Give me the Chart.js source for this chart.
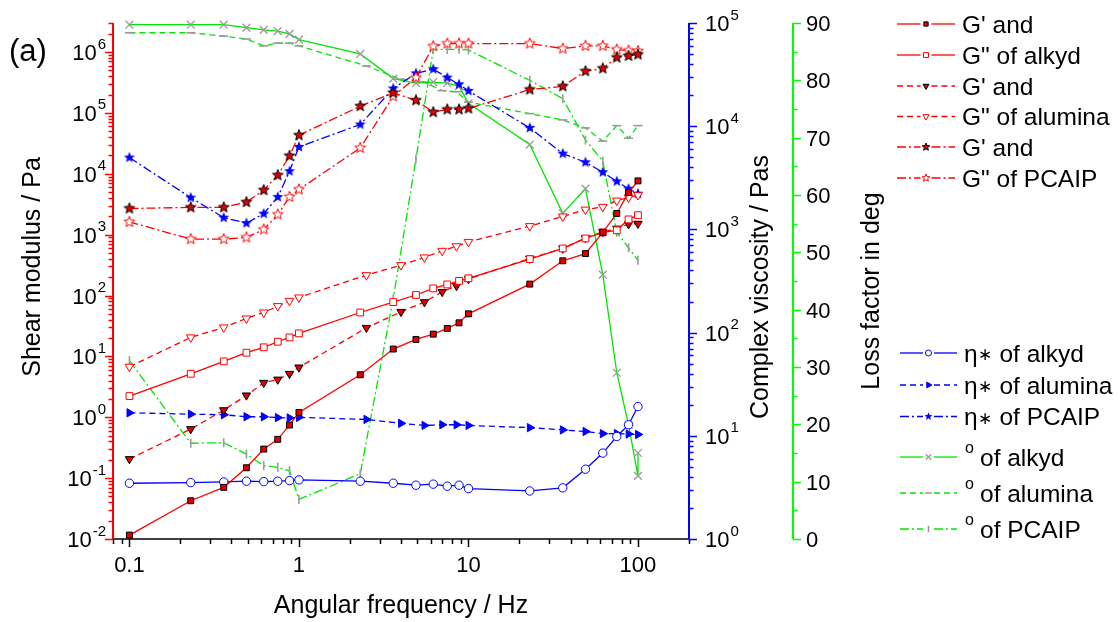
<!DOCTYPE html>
<html>
<head>
<meta charset="utf-8">
<title>Rheology of alkyd, alumina and PCAIP</title>
<script src="https://cdn.jsdelivr.net/npm/chart.js@4.4.1/dist/chart.umd.min.js"></script>
<style>
  html, body { margin: 0; padding: 0; background: #fff; }
  #chart { display: block; }
</style>
</head>
<body>
<canvas id="chart" width="1120" height="622"></canvas>
<script>
// Frequency sweeps (Hz). Alkyd and PCAIP share one sweep, alumina used another.
const freqAlkyd = [0.1, 0.23, 0.36, 0.49, 0.62, 0.75, 0.88, 1, 2.3, 3.6, 4.9, 6.2, 7.5, 8.8, 10, 23, 36, 49, 62, 75, 88, 100];
const freqPcaip = freqAlkyd;
const freqAlumina = [0.1, 0.23, 0.36, 0.49, 0.62, 0.75, 0.88, 1, 2.5, 4, 5.5, 7, 8.5, 10, 23, 36, 49, 62, 75, 88, 100];
const freqLossAlkyd = [...freqAlkyd, 100]; // two readings at 100 Hz

// storage (G') and loss (G") modulus, Pa
const gpAlkyd = [0.0116, 0.0425, 0.0706, 0.148, 0.30, 0.434, 0.745, 1.2, 4.99, 13.2, 19, 23.2, 28.8, 35.6, 50, 154, 372, 488, 1090, 2230, 4930, 7640];
const gppAlkyd = [2.23, 5.18, 8.28, 11.5, 14.1, 17.4, 20.5, 23.9, 52.6, 78, 102, 131, 152, 174, 192, 396, 593, 866, 1090, 1180, 1780, 2090];
const gpAlumina = [0.206, 0.64, 1.31, 2.29, 3.69, 4.17, 5.18, 6.6, 29.5, 54, 78, 115, 144, 188, 405, 592, 878, 1110, 1260, 1490, 1515];
const gppAlumina = [6.76, 20.5, 29.9, 42, 52.6, 67, 81.8, 93, 216, 316, 423, 542, 646, 760, 1380, 1990, 2580, 2860, 3630, 4080, 4470];
const gpPcaip = [2690, 2800, 2800, 3420, 5380, 9480, 19700, 43000, 129000, 214000, 161000, 103000, 114000, 114000, 118000, 242000, 273000, 484000, 537000, 813000, 863000, 913000];
const gppPcaip = [1620, 844, 844, 900, 1217, 2140, 4170, 5520, 26600, 187000, 380000, 1245000, 1380000, 1380000, 1380000, 1380000, 1140000, 1260000, 1260000, 1100000, 1060000, 1040000];

// complex viscosity, Pas
const etaAlkyd = [3.47, 3.52, 3.57, 3.63, 3.6, 3.63, 3.68, 3.74, 3.63, 3.47, 3.32, 3.4, 3.25, 3.32, 3.08, 2.92, 3.13, 4.75, 6.8, 9.84, 12.8, 19.2];
const etaAlumina = [16.7, 16.2, 16.0, 15.3, 15.3, 15.0, 14.9, 15.1, 14.4, 13.2, 12.6, 12.8, 12.8, 12.6, 12.0, 11.4, 11.0, 10.5, 10.5, 10.4, 10.3];
const etaPcaip = [4970, 2030, 1300, 1150, 1420, 2060, 3660, 6300, 10400, 23200, 32500, 35700, 29600, 25400, 22000, 9620, 5430, 4470, 3580, 2920, 2480, 2220];

// loss factor, deg
const lossAlkyd = [89.7, 89.7, 89.7, 89.2, 88.8, 88.6, 88.1, 87.1, 84.6, 80.3, 79.5, 79.7, 79.5, 79.0, 76.0, 68.8, 56.8, 61.1, 46.1, 29.0, 19.9, 11.0, 15.0];
const lossAlumina = [88.3, 88.3, 87.7, 87.2, 86.0, 86.5, 86.5, 86.0, 82.5, 80.2, 79.7, 78.2, 78.0, 76.2, 74.2, 73.1, 71.7, 69.4, 72.1, 69.9, 72.1];
const lossPcaip = [31.1, 16.7, 16.8, 14.8, 12.8, 12.5, 11.9, 6.9, 11.4, 41.9, 66.3, 85.4, 85.4, 85.4, 85.3, 80.0, 76.8, 69.6, 65.9, 53.5, 50.8, 48.6];

// tick labels
const freqTicks = [0.1, 1, 10, 100];
const modulusExponents = [-2, -1, 0, 1, 2, 3, 4, 5, 6];
const viscosityExponents = [0, 1, 2, 3, 4, 5];
const lossTicks = [0, 10, 20, 30, 40, 50, 60, 70, 80, 90];

const FONT = '"Liberation Sans", Arial, Helvetica, sans-serif';
const RED = '#ff0000', DARKRED = '#e00000', BLUE = '#0000ff', GREEN = '#00e600', GREY = '#9a9a9a';
const DASH = [6, 4], DASHDOT = [9, 3, 2, 3];

// five-pointed star marker, Chart.js has no filled star style
function starMarker(r, fill, stroke) {
  const c = document.createElement('canvas');
  c.width = c.height = Math.ceil(2 * r + 4);
  const g = c.getContext('2d');
  const cx = c.width / 2, cy = c.height / 2;
  g.beginPath();
  for (let i = 0; i < 10; i++) {
    const rr = i % 2 ? r * 0.44 : r;
    const t = -Math.PI / 2 + i * Math.PI / 5;
    g.lineTo(cx + rr * Math.cos(t), cy + rr * Math.sin(t));
  }
  g.closePath();
  g.fillStyle = fill;
  g.fill();
  if (stroke) { g.lineWidth = 1; g.strokeStyle = stroke; g.stroke(); }
  return c;
}

function series(label, xs, ys, axis, style) {
  return Object.assign({
    label,
    xAxisID: 'x',
    yAxisID: axis,
    data: xs.map((x, i) => ({ x, y: ys[i] })),
    borderWidth: 1.3,
    borderDash: [],
    tension: 0,
    fill: false,
    clip: false,
    pointBorderWidth: 1
  }, style);
}

const datasets = [
  series("G' and", freqAlkyd, gpAlkyd, 'yG', {
    borderColor: RED, pointStyle: 'rect', pointRadius: 4.2,
    pointBackgroundColor: DARKRED, pointBorderColor: '#000'
  }),
  series('G" of alkyd', freqAlkyd, gppAlkyd, 'yG', {
    borderColor: RED, pointStyle: 'rect', pointRadius: 4.8,
    pointBackgroundColor: '#fff', pointBorderColor: RED
  }),
  series("G' and", freqAlumina, gpAlumina, 'yG', {
    borderColor: RED, borderDash: DASH, pointStyle: 'triangle', pointRotation: 180, pointRadius: 4.8,
    pointBackgroundColor: DARKRED, pointBorderColor: '#000'
  }),
  series('G" of alumina', freqAlumina, gppAlumina, 'yG', {
    borderColor: RED, borderDash: DASH, pointStyle: 'triangle', pointRotation: 180, pointRadius: 5,
    pointBackgroundColor: '#fff', pointBorderColor: RED
  }),
  series("G' and", freqPcaip, gpPcaip, 'yG', {
    borderColor: RED, borderDash: DASHDOT, pointStyle: starMarker(5.6, DARKRED, '#000'),
    legendMarker: starMarker(4, DARKRED, '#000')
  }),
  series('G" of PCAIP', freqPcaip, gppPcaip, 'yG', {
    borderColor: RED, borderDash: DASHDOT, pointStyle: starMarker(5.6, '#fff', RED),
    legendMarker: starMarker(4, '#fff', RED)
  }),
  series('\u03b7\u2217 of alkyd', freqAlkyd, etaAlkyd, 'yEta', {
    borderColor: BLUE, pointStyle: 'circle', pointRadius: 4.2,
    pointBackgroundColor: '#fff', pointBorderColor: BLUE
  }),
  series('\u03b7\u2217 of alumina', freqAlumina, etaAlumina, 'yEta', {
    borderColor: BLUE, borderDash: DASH, pointStyle: 'triangle', pointRotation: 90, pointRadius: 4.8,
    pointBackgroundColor: BLUE, pointBorderColor: BLUE
  }),
  series('\u03b7\u2217 of PCAIP', freqPcaip, etaPcaip, 'yEta', {
    borderColor: BLUE, borderDash: DASHDOT, pointStyle: starMarker(5.8, BLUE, null),
    legendMarker: starMarker(4.2, BLUE, null)
  }),
  series('of alkyd', freqLossAlkyd, lossAlkyd, 'yLoss', {
    borderColor: GREEN, pointStyle: 'crossRot', pointRadius: 5.5,
    pointBackgroundColor: GREY, pointBorderColor: GREY, pointBorderWidth: 1.3
  }),
  series('of alumina', freqAlumina, lossAlumina, 'yLoss', {
    borderColor: GREEN, borderDash: DASH, pointStyle: 'line', pointRadius: 4.5,
    pointBackgroundColor: GREY, pointBorderColor: GREY, pointBorderWidth: 1.6
  }),
  series('of PCAIP', freqPcaip, lossPcaip, 'yLoss', {
    borderColor: GREEN, borderDash: DASHDOT, pointStyle: 'line', pointRotation: 90, pointRadius: 4.5,
    pointBackgroundColor: GREY, pointBorderColor: GREY, pointBorderWidth: 1.6
  })
];

function seg(ctx, x0, y0, x1, y1) {
  ctx.beginPath();
  ctx.moveTo(x0, y0);
  ctx.lineTo(x1, y1);
  ctx.stroke();
}

// 1..9 x 10^n positions between min and max
function logTicks(min, max) {
  const out = [];
  for (let e = Math.floor(Math.log10(min)); e <= Math.ceil(Math.log10(max)); e++) {
    for (let m = 1; m < 10; m++) {
      const v = m * Math.pow(10, e);
      if (v >= min * 0.999 && v <= max * 1.001) out.push({ v, major: m === 1 });
    }
  }
  return out;
}

// "10" with a raised exponent
function powerLabel(ctx, exp, x, y, alignRight) {
  ctx.textAlign = 'left';
  ctx.textBaseline = 'alphabetic';
  ctx.font = '22px ' + FONT;
  const wb = ctx.measureText('10').width;
  ctx.font = '15px ' + FONT;
  const ws = ctx.measureText(String(exp)).width;
  const x0 = alignRight ? x - wb - ws - 1 : x;
  ctx.font = '22px ' + FONT;
  ctx.fillText('10', x0, y + 8);
  ctx.font = '15px ' + FONT;
  ctx.fillText(String(exp), x0 + wb + 1, y - 3.5);
}

function verticalTitle(ctx, text, x, y) {
  ctx.save();
  ctx.translate(x, y);
  ctx.rotate(-Math.PI / 2);
  ctx.textAlign = 'center';
  ctx.textBaseline = 'alphabetic';
  ctx.fillText(text, 0, 0);
  ctx.restore();
}

const LOSS_AXIS_OFFSET = 104;

const axesPlugin = {
  id: 'axes',
  beforeDatasetsDraw(chart) {
    const { ctx, chartArea: a, scales } = chart;
    const sx = scales.x, sg = scales.yG, se = scales.yEta, sl = scales.yLoss;
    ctx.save();
    ctx.lineCap = 'butt';

    // frequency axis
    ctx.strokeStyle = '#000';
    ctx.lineWidth = 1.5;
    seg(ctx, a.left - 1, a.bottom, a.right, a.bottom);
    logTicks(sx.min, sx.max).forEach(t => {
      const px = Math.round(sx.getPixelForValue(t.v)) + 0.5;
      seg(ctx, px, a.bottom, px, a.bottom + (t.major ? 8 : 5));
    });
    ctx.fillStyle = '#000';
    ctx.font = '22px ' + FONT;
    ctx.textAlign = 'center';
    ctx.textBaseline = 'alphabetic';
    freqTicks.forEach(v => ctx.fillText(String(v), sx.getPixelForValue(v), 572));

    // shear modulus axis
    ctx.strokeStyle = RED;
    ctx.lineWidth = 2;
    seg(ctx, a.left, a.top, a.left, a.bottom);
    ctx.lineWidth = 1.5;
    logTicks(sg.min, sg.max).forEach(t => {
      const py = Math.round(sg.getPixelForValue(t.v)) + 0.5;
      seg(ctx, a.left, py, a.left - (t.major ? 8 : 4.5), py);
    });
    ctx.fillStyle = '#000';
    modulusExponents.forEach(e => powerLabel(ctx, e, 106, sg.getPixelForValue(Math.pow(10, e)), true));

    // complex viscosity axis
    ctx.strokeStyle = BLUE;
    ctx.lineWidth = 2;
    seg(ctx, a.right, a.top, a.right, a.bottom);
    ctx.lineWidth = 1.5;
    logTicks(se.min, se.max).forEach(t => {
      const py = Math.round(se.getPixelForValue(t.v)) + 0.5;
      seg(ctx, a.right, py, a.right + (t.major ? 8 : 4.5), py);
    });
    viscosityExponents.forEach(e => powerLabel(ctx, e, a.right + 16, se.getPixelForValue(Math.pow(10, e)), false));

    // loss factor axis
    const lx = a.right + LOSS_AXIS_OFFSET;
    ctx.strokeStyle = '#00ff00';
    ctx.lineWidth = 2;
    seg(ctx, lx, a.top, lx, a.bottom);
    ctx.lineWidth = 1.5;
    for (let d = 0; d <= 90; d += 5) {
      const py = Math.round(sl.getPixelForValue(d)) + 0.5;
      seg(ctx, lx, py, lx + (d % 10 === 0 ? 8 : 4.5), py);
    }
    ctx.fillStyle = '#000';
    ctx.font = '22px ' + FONT;
    ctx.textAlign = 'left';
    lossTicks.forEach(v => ctx.fillText(String(v), lx + 13, sl.getPixelForValue(v) + 8));

    // titles
    ctx.font = '25px ' + FONT;
    ctx.textAlign = 'center';
    ctx.fillText('Angular frequency / Hz', (a.left + a.right) / 2, 613);
    verticalTitle(ctx, 'Shear modulus / Pa', 40, 267);
    verticalTitle(ctx, 'Complex viscosity / Pas', a.right + 79, 287);
    verticalTitle(ctx, 'Loss factor in deg', lx + 86, 291);
    ctx.font = '31px ' + FONT;
    ctx.textAlign = 'left';
    ctx.fillText('(a)', 9, 61);
    ctx.restore();
  }
};

// legend rows: line sample with a gap around the marker, then the label
const LEGEND_ROWS = [24, 55, 86, 116.5, 147, 178, 353, 385, 416.5, 457, 493, 529];

const legendPlugin = {
  id: 'sampleLegend',
  afterDraw(chart) {
    const { ctx } = chart;
    chart.data.datasets.forEach((ds, i) => {
      const y = LEGEND_ROWS[i];
      const upper = i < 6;
      const x0 = upper ? 897 : 900, x1 = upper ? 955 : 957;
      const xm = (x0 + x1) / 2;
      ctx.save();
      ctx.strokeStyle = ds.borderColor;
      ctx.lineWidth = 1.3;
      ctx.setLineDash(ds.borderDash);
      seg(ctx, x0, y, xm - 5.5, y);
      seg(ctx, xm + 5.5, y, x1, y);
      ctx.setLineDash([]);
      ctx.fillStyle = ds.pointBackgroundColor || '#000';
      ctx.strokeStyle = ds.pointBorderColor || '#000';
      ctx.lineWidth = ds.pointBorderWidth;
      Chart.helpers.drawPoint(ctx, {
        pointStyle: ds.legendMarker || ds.pointStyle,
        rotation: ds.pointRotation || 0,
        radius: (ds.pointRadius || 4) * 0.72,
        borderWidth: ds.pointBorderWidth
      }, xm, y);

      ctx.fillStyle = '#000';
      ctx.textAlign = 'left';
      ctx.textBaseline = 'alphabetic';
      if (ds.yAxisID === 'yLoss') {
        ctx.font = '16px ' + FONT;
        ctx.fillText('o', 965, y - 4);
        ctx.font = '24.5px ' + FONT;
        ctx.fillText(ds.label, 980, y + 8.5);
      } else if (ds.yAxisID === 'yEta') {
        // eta with a smaller centred asterisk
        const [sym, rest] = [ds.label.slice(0, 2), ds.label.slice(2)];
        ctx.font = '24.5px ' + FONT;
        ctx.fillText(sym[0], 964, y + 8.5);
        const we = ctx.measureText(sym[0]).width;
        ctx.font = '17px ' + FONT;
        ctx.fillText(sym[1], 964 + we + 0.5, y + 7);
        const wa = ctx.measureText(sym[1]).width;
        ctx.font = '24.5px ' + FONT;
        ctx.fillText(rest, 964 + we + wa + 1, y + 8.5);
      } else {
        ctx.font = '24.5px ' + FONT;
        ctx.fillText(ds.label, 962, y + 8.5);
      }
      ctx.restore();
    });
  }
};

new Chart(document.getElementById('chart'), {
  type: 'line',
  data: { datasets },
  options: {
    responsive: false,
    devicePixelRatio: 1,
    animation: false,
    events: [],
    layout: { autoPadding: false, padding: { left: 113, top: 23, right: 431, bottom: 83 } },
    scales: {
      x: { type: 'logarithmic', min: 0.08, max: 200, display: false },
      yG: { type: 'logarithmic', position: 'left', min: 0.01, max: 3e6, display: false },
      yEta: { type: 'logarithmic', position: 'right', min: 1, max: 1e5, display: false },
      yLoss: { type: 'linear', position: 'right', min: 0, max: 90, display: false }
    },
    plugins: {
      legend: { display: false },
      tooltip: { enabled: false }
    }
  },
  plugins: [axesPlugin, legendPlugin]
});
</script>
</body>
</html>
